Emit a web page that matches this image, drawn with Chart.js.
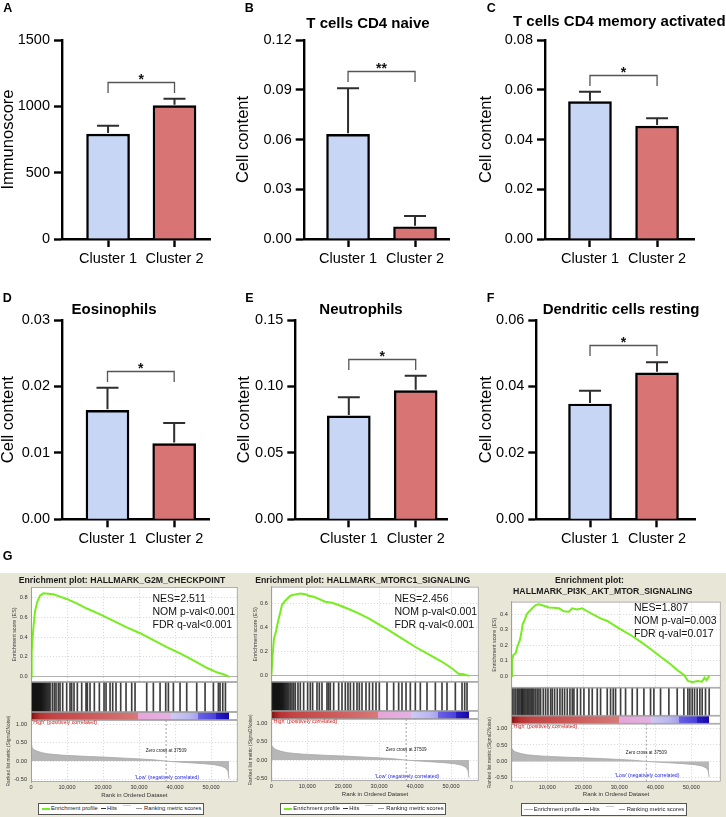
<!DOCTYPE html>
<html><head><meta charset="utf-8">
<script src="https://cdn.jsdelivr.net/npm/chart.js@4/dist/chart.umd.min.js"></script>
<style>
body{margin:0;width:726px;height:817px;overflow:hidden;background:#fff;position:relative;font-family:'Liberation Sans',Arial,sans-serif;}
canvas{position:absolute;}
.t{position:absolute;white-space:nowrap;line-height:1;color:#000;}
.pl{font-weight:bold;font-size:12.5px;}
.ct{font-weight:bold;font-size:15px;transform:translateX(-50%);}
.gt{font-weight:bold;font-size:8.7px;color:#1a1a1a;transform:translateX(-50%);}
.nes{font-size:10.5px;color:#111;line-height:12.95px;}
.leg{position:absolute;width:164px;height:10.3px;border:1px solid #555;background:#fff;}
.leg i,.leg span{position:absolute;display:block;}
.leg span{top:2.3px;font-size:5.8px;line-height:1;color:#222;white-space:nowrap;}
#gbg{position:absolute;left:0;top:573px;width:726px;height:244px;background:#e8e6d6;}
</style></head><body>
<div id="gbg"></div>
<script>
// ================= DATA =================
const clusters = ['Cluster 1', 'Cluster 2'];

const immunoscoreMean = [791, 1005];
const immunoscoreSem  = [63, 52];
const immunoscoreTicks = [0, 500, 1000, 1500];

const cd4NaiveMean = [0.0631, 0.0074];
const cd4NaiveSem  = [0.0278, 0.0065];
const cd4NaiveTicks = [0, 0.03, 0.06, 0.09, 0.12];

const cd4MemActMean = [0.0552, 0.0454];
const cd4MemActSem  = [0.0040, 0.0031];
const cd4MemActTicks = [0, 0.02, 0.04, 0.06, 0.08];

const eosinophilsMean = [0.0164, 0.0114];
const eosinophilsSem  = [0.0034, 0.0031];
const eosinophilsTicks = [0, 0.01, 0.02, 0.03];

const neutrophilsMean = [0.0778, 0.0968];
const neutrophilsSem  = [0.0140, 0.0113];
const neutrophilsTicks = [0, 0.05, 0.10, 0.15];

const dcRestingMean = [0.0347, 0.0441];
const dcRestingSem  = [0.0040, 0.0032];
const dcRestingTicks = [0, 0.02, 0.04, 0.06];

const significance = ['*', '**', '*', '*', '*', '*'];

// GSEA
const GENE_COUNT = 55000;
const ZERO_CROSS = 37509;
const rankTicks = [0, 10000, 20000, 30000, 40000, 50000];
const metricTicks = [-0.5, -0.25, 0, 0.25, 0.5, 0.75, 1.0];

const g2mRank = [0,185,650,1100,1760,2500,3430,4800,6200,8060,9900,12700,15500,19200,22900,26600,30300,34000,37700,41400,45100,48800,51600,53400,55000];
const g2mES   = [0,0.25,0.49,0.66,0.76,0.82,0.844,0.84,0.834,0.81,0.787,0.743,0.69,0.63,0.564,0.50,0.44,0.37,0.30,0.236,0.165,0.09,0.044,0.024,0.0];
const g2mHits = [60,150,260,380,480,600,700,830,950,1080,1200,1330,1450,1580,1700,1850,1980,2100,2250,2400,2550,2700,2850,3000,3200,3400,3600,3850,4100,4400,4700,5000,5300,5930,6480,6950,7590,8060,8800,9910,10830,11300,11950,12870,14080,15280,15650,16390,17590,18980,20280,20840,21950,22690,23610,24910,26390,27970,28890,32130,33980,35840,37410,38150,39540,41390,43240,46020,48340,50650,52040,52500,53250,53990];
const g2mTicks = [0,0.1,0.2,0.3,0.4,0.5,0.6,0.7,0.8];
const g2mStats = ['NES=2.511', 'NOM p-val<0.001', 'FDR q-val<0.001'];

const mtorc1Rank = [0,370,740,1300,1850,2500,2970,3700,4360,5290,6680,8070,9460,10400,11800,13200,15000,16900,18700,21500,24300,27100,29900,32650,36400,40100,43800,47500,50300,52100,53500,55000];
const mtorc1ES   = [0,0.17,0.31,0.37,0.45,0.53,0.59,0.62,0.64,0.667,0.678,0.686,0.68,0.667,0.658,0.64,0.617,0.608,0.59,0.556,0.52,0.478,0.428,0.38,0.31,0.24,0.178,0.117,0.061,0.017,0.014,0.0];
const mtorc1Hits = [50,140,240,330,430,520,640,750,860,980,1100,1220,1350,1470,1600,1720,1850,1980,2120,2260,2400,2560,2720,2880,3050,3250,3450,3700,3950,4250,4550,4900,5300,5750,6215,6680,7420,8070,9000,10110,10850,11500,12710,13360,14100,15490,15950,16420,17350,18740,19670,20590,21330,22000,22910,23840,24490,25230,26340,27270,28200,29130,30050,32190,34040,35430,36360,37480,38680,40070,41460,43320,45640,47490,48880,51200,53060,53800,54450];
const mtorc1Ticks = [0,0.1,0.2,0.3,0.4,0.5,0.6,0.7];
const mtorc1Stats = ['NES=2.456', 'NOM p-val<0.001', 'FDR q-val<0.001'];

const pi3kRank = [0,185,555,1200,1670,2400,2780,3150,3700,4260,4900,5830,6760,7680,9070,10460,11850,13240,14600,16000,16900,18300,19700,21100,22960,24800,26700,28500,30400,33150,35900,38700,41500,44260,46100,48000,49100,50300,51700,53000,53700,54250,54900,55000];
const pi3kES   = [0,0.097,0.136,0.147,0.19,0.234,0.277,0.335,0.363,0.40,0.417,0.439,0.46,0.465,0.456,0.445,0.443,0.439,0.42,0.417,0.439,0.432,0.439,0.42,0.396,0.374,0.357,0.33,0.303,0.266,0.223,0.175,0.125,0.076,0.039,0.006,-0.032,-0.041,-0.032,-0.037,-0.011,-0.028,-0.004,0.006];
const pi3kHits = [278,741,1204,1667,2037,2407,2778,3055,3333,3704,4074,4444,4815,5185,5555,5926,6296,6759,7222,7685,8148,8889,9537,10185,10926,11389,12037,12778,13518,14166,14814,15555,16296,16944,17407,18333,19259,20185,21574,22500,23888,24814,26666,27592,28333,28981,30370,31759,33611,35000,36851,38703,39629,41481,43796,46110,47962,49073,49629,50277,50925,51666,52407,53055,53981,55000];
const pi3kTicks = [0,0.1,0.2,0.3,0.4];
const pi3kStats = ['NES=1.807', 'NOM p-val=0.003', 'FDR q-val=0.017'];

const metricRank  = [0,200,600,1200,2000,3000,4500,6500,9000,12000,16000,20000,25000,30000,34000,37509,40000,44000,48000,51000,53000,54200,54700,55000];
const metricValue = [0.44,0.38,0.33,0.29,0.26,0.23,0.2,0.18,0.16,0.145,0.125,0.11,0.085,0.06,0.035,0,-0.02,-0.045,-0.07,-0.1,-0.14,-0.2,-0.28,-0.48];

// ================= HELPERS =================
const FF = "'Liberation Sans', Arial, sans-serif";
Chart.defaults.font.family = FF;

function mkCanvas(id, x, y, w, h) {
  const c = document.createElement('canvas');
  c.id = id; c.width = w; c.height = h;
  c.style.left = x + 'px'; c.style.top = y + 'px';
  document.body.appendChild(c);
  return c;
}
function addText(txt, x, y, cls, extra) {
  const d = document.createElement('div');
  d.className = 't ' + cls;
  d.style.left = x + 'px'; d.style.top = y + 'px';
  if (extra) d.style.cssText += extra;
  d.innerHTML = txt;
  document.body.appendChild(d);
  return d;
}

const errSigPlugin = {
  id: 'errSig',
  afterDatasetsDraw(chart, args, opts) {
    const ctx = chart.ctx, ys = chart.scales.y, meta = chart.getDatasetMeta(0);
    ctx.save();
    ctx.strokeStyle = '#2e2e2e'; ctx.lineWidth = 2;
    let topY = Infinity;
    meta.data.forEach((bar, i) => {
      const y0 = ys.getPixelForValue(opts.mean[i]);
      const y1 = ys.getPixelForValue(opts.mean[i] + opts.sem[i]);
      topY = Math.min(topY, y1);
      ctx.beginPath();
      ctx.moveTo(bar.x, y0 - 1); ctx.lineTo(bar.x, y1);
      ctx.moveTo(bar.x - 11, y1); ctx.lineTo(bar.x + 11, y1);
      ctx.stroke();
    });
    const yb = Math.round(topY - 17) + 0.5;
    const xa = meta.data[0].x, xb = meta.data[1].x;
    ctx.strokeStyle = '#555'; ctx.lineWidth = 1.3;
    ctx.beginPath();
    ctx.moveTo(xa, yb + 10.5); ctx.lineTo(xa, yb); ctx.lineTo(xb, yb); ctx.lineTo(xb, yb + 10.5);
    ctx.stroke();
    ctx.fillStyle = '#111'; ctx.font = 'bold 14px ' + FF;
    ctx.textAlign = 'center'; ctx.textBaseline = 'alphabetic';
    ctx.fillText(opts.stars, (xa + xb) / 2, yb + 1.5);
    ctx.restore();
  }
};

function barChart(o) {
  const cv = mkCanvas(o.id, o.cx, o.cy, 262, o.h);
  const topV = o.ticks[o.ticks.length - 1];
  new Chart(cv, {
    type: 'bar',
    data: { datasets: [{
      data: o.mean.map((v, i) => ({ x: i + 1, y: v })),
      backgroundColor: ['#c6d6f4', '#d87474'],
      borderColor: '#000', borderWidth: 2.4, borderSkipped: 'start',
      barThickness: 43
    }]},
    options: {
      responsive: false, animation: false, events: [],
      layout: { padding: { left: 0, right: 262 - o.right, top: o.top, bottom: 0 } },
      plugins: { legend: { display: false }, tooltip: { enabled: false },
        errSig: { mean: o.mean, sem: o.sem, stars: o.stars } },
      scales: {
        x: {
          type: 'linear', min: o.xmin, max: o.xmax, offset: false,
          afterBuildTicks: s => { s.ticks = clusters.map((c, i) => ({ value: i + 1 })); },
          afterFit: s => { s.height = o.h - o.bottom; },
          ticks: { callback: v => clusters[v - 1], font: { size: 14.5 }, color: '#000', padding: 3, autoSkip: false, maxRotation: 0 },
          grid: { drawOnChartArea: false, tickLength: 8, tickWidth: 2.4, tickColor: '#000', offset: false },
          border: { display: true, color: '#000', width: 2.4 }
        },
        y: {
          min: 0, max: topV,
          afterBuildTicks: s => { s.ticks = o.ticks.map(v => ({ value: v })); },
          afterFit: s => { s.width = o.left; },
          ticks: { callback: v => o.fmt(v), font: { size: 14.5 }, color: '#000', padding: 4 },
          grid: { drawOnChartArea: false, tickLength: 8, tickWidth: 2.4, tickColor: '#000' },
          border: { display: true, color: '#000', width: 2.4 },
          title: { display: true, text: o.yTitle, font: { size: 16.5 }, color: '#000', padding: { top: o.tPad, bottom: 0 } }
        }
      }
    },
    plugins: [errSigPlugin]
  });
}

const f0 = v => String(Math.round(v));
const f2 = v => v.toFixed(2);

barChart({ id: 'cA', cx: -20, cy: 0, h: 290, left: 82, right: 230, top: 40, bottom: 239, xmin: 0.307, xmax: 2.534,
  mean: immunoscoreMean, sem: immunoscoreSem, ticks: immunoscoreTicks, fmt: f0, yTitle: 'Immunoscore', tPad: 18.4, stars: significance[0] });
barChart({ id: 'cB', cx: 222, cy: 0, h: 290, left: 81.7, right: 227, top: 40, bottom: 239, xmin: 0.338, xmax: 2.507,
  mean: cd4NaiveMean, sem: cd4NaiveSem, ticks: cd4NaiveTicks, fmt: f2, yTitle: 'Cell content', tPad: 11.6, stars: significance[1] });
barChart({ id: 'cC', cx: 464, cy: 0, h: 290, left: 81, right: 230, top: 40, bottom: 239, xmin: 0.33, xmax: 2.55,
  mean: cd4MemActMean, sem: cd4MemActSem, ticks: cd4MemActTicks, fmt: f2, yTitle: 'Cell content', tPad: 12.1, stars: significance[2] });
barChart({ id: 'cD', cx: -20, cy: 290, h: 283, left: 82, right: 229, top: 30, bottom: 229.3, xmin: 0.318, xmax: 2.522,
  mean: eosinophilsMean, sem: eosinophilsSem, ticks: eosinophilsTicks, fmt: f2, yTitle: 'Cell content', tPad: 18.4, stars: significance[3] });
barChart({ id: 'cE', cx: 222, cy: 290, h: 283, left: 73.3, right: 225, top: 30, bottom: 229.3, xmin: 0.2, xmax: 2.468,
  mean: neutrophilsMean, sem: neutrophilsSem, ticks: neutrophilsTicks, fmt: f2, yTitle: 'Cell content', tPad: 12.1, stars: significance[4] });
barChart({ id: 'cF', cx: 464, cy: 290, h: 283, left: 72.3, right: 231.7, top: 30, bottom: 229.3, xmin: 0.198, xmax: 2.578,
  mean: dcRestingMean, sem: dcRestingSem, ticks: dcRestingTicks, fmt: f2, yTitle: 'Cell content', tPad: 12.1, stars: significance[5] });

// ================= GSEA =================
const COLOR_STOPS = [
  [0, '#6e0a0a'], [800, '#9a1a1a'], [2500, '#b83232'], [6000, '#c44444'], [15000, '#cc5555'], [25000, '#d46c6c'], [29800, '#d87a7a'],
  [29800, '#e8a4d8'], [38800, '#e2b2e2'],
  [38800, '#cfcaf2'], [44000, '#bab6f0'], [46500, '#a6a0ee'],
  [46500, '#6a62e6'], [51500, '#4a40dc'],
  [51500, '#2a1ec8'], [55000, '#1408a8']
];

const gseaPlugin = {
  id: 'gsea',
  beforeDraw(chart) {
    const { ctx, chartArea: a } = chart;
    ctx.save(); ctx.fillStyle = '#fff'; ctx.fillRect(a.left, a.top, a.width, a.height); ctx.restore();
  },
  beforeDatasetsDraw(chart) {
    const { ctx, chartArea: a, scales: s } = chart;
    ctx.save(); ctx.fillStyle = '#fff';
    ctx.fillRect(a.left, s.yHit.top, a.width, s.yBar.bottom - s.yHit.top);
    ctx.restore();
  },
  afterDatasetsDraw(chart) {
    const { ctx, chartArea: a, scales: s } = chart;
    ctx.save();
    ctx.strokeStyle = '#9a9a9a'; ctx.lineWidth = 0.8;
    ['yES', 'yHit', 'yBar', 'yRank'].forEach(id => {
      ctx.strokeRect(a.left + 0.4, s[id].top + 0.4, a.width - 0.8, s[id].bottom - s[id].top - 0.8);
    });
    const zx = s.x.getPixelForValue(ZERO_CROSS);
    ctx.textBaseline = 'top'; ctx.textAlign = 'left';
    ctx.fillStyle = '#cc2020'; ctx.font = '5.3px ' + FF;
    ctx.fillText("'High' (positively correlated)", a.left + 1.3, s.yRank.top + 0.3);
    ctx.textBaseline = 'middle'; ctx.textAlign = 'center';
    ctx.fillStyle = '#222'; ctx.font = '4.6px ' + FF;
    ctx.fillText('Zero cross at ' + ZERO_CROSS, zx, s.yRank.getPixelForValue(0.27));
    ctx.fillStyle = '#2828e0'; ctx.font = '5.2px ' + FF;
    ctx.fillText("'Low' (negatively correlated)", zx + 1, s.yRank.getPixelForValue(-0.44));
    ctx.restore();
  }
};

function gradientFill(c) {
  const ch = c.chart; const xs = ch.scales && ch.scales.x;
  if (!xs || !ch.chartArea) return '#c05050';
  const x0 = xs.getPixelForValue(0), x1 = xs.getPixelForValue(GENE_COUNT);
  const g = ch.ctx.createLinearGradient(x0, 0, x1, 0);
  COLOR_STOPS.forEach(([r, col]) => g.addColorStop(Math.min(1, r / GENE_COUNT), col));
  return g;
}

function gseaChart(o) {
  const cv = mkCanvas(o.id, o.cx, 575, 242, 242);
  const gridCol = c => (c.tick && c.tick.value === 0) ? '#9a9a9a' : '#d2d2d2';
  const dash = c => (c.tick && c.tick.value === 0) ? [] : [1.2, 1.8];
  new Chart(cv, {
    type: 'line',
    data: { datasets: [
      { label: 'Enrichment profile', data: o.rank.map((r, i) => ({ x: r, y: o.es[i] })), yAxisID: 'yES',
        borderColor: '#76ee1e', borderWidth: 2, pointRadius: 0, fill: false },
      { type: 'bar', label: 'Hits', data: o.hits.map(h => ({ x: h, y: 1 })), yAxisID: 'yHit',
        backgroundColor: 'rgba(20,20,20,0.82)', barThickness: 1, borderWidth: 0 },
      { label: 'colorbar', data: [{ x: 0, y: 1 }, { x: GENE_COUNT, y: 1 }], yAxisID: 'yBar',
        borderWidth: 0, pointRadius: 0, fill: 'origin', backgroundColor: gradientFill },
      { label: 'Ranking metric scores', data: metricRank.map((r, i) => ({ x: r, y: metricValue[i] })), yAxisID: 'yRank',
        borderColor: '#a6a6a6', borderWidth: 0.8, backgroundColor: '#b6b6b6', fill: 'origin', pointRadius: 0 },
      { label: 'zero', data: [{ x: ZERO_CROSS, y: o.rankMin }, { x: ZERO_CROSS, y: o.rankMax }], yAxisID: 'yRank',
        borderColor: '#8a8a8a', borderWidth: 0.8, borderDash: [2, 2], pointRadius: 0, fill: false }
    ]},
    options: {
      responsive: false, animation: false, events: [],
      layout: { padding: { left: 0, right: 242 - o.right, top: o.top, bottom: 242 - o.bottom - 18 } },
      plugins: { legend: { display: false }, tooltip: { enabled: false } },
      scales: {
        x: {
          type: 'linear', min: 0, max: o.xMax, offset: false,
          afterBuildTicks: s => { s.ticks = rankTicks.map(v => ({ value: v })); },
          afterFit: s => { s.height = 18; },
          ticks: { callback: v => v.toLocaleString('en-US'), font: { size: 5.6 }, color: '#333', padding: 2, maxRotation: 0, autoSkip: false },
          grid: { color: '#d2d2d2', lineWidth: 0.8, drawTicks: false, offset: false },
          border: { display: false, dash: [1.2, 1.8] },
          title: { display: true, text: 'Rank in Ordered Dataset', font: { size: 6 }, color: '#333', padding: { top: 0, bottom: 1.4 } }
        },
        yES: {
          type: 'linear', position: 'left', stack: 'gsea', stackWeight: o.stack[0], weight: 4,
          min: o.esMin, max: o.esMax,
          afterBuildTicks: s => { s.ticks = o.esTicks.map(v => ({ value: v })); },
          afterFit: s => { s.width = o.left; },
          ticks: { callback: v => v.toFixed(1), font: { size: 5.6 }, color: '#333', padding: 3.5 },
          grid: { color: gridCol, lineWidth: 0.8, drawTicks: false },
          border: { display: true, color: '#9a9a9a', width: 0.8, dash: dash },
          title: { display: true, text: 'Enrichment score (ES)', font: { size: 5.4 }, color: '#444', padding: { top: o.esTPad, bottom: 0 } }
        },
        yHit: {
          type: 'linear', position: 'left', stack: 'gsea', stackWeight: o.stack[1], weight: 3, min: 0, max: 1,
          afterFit: s => { s.width = o.left; },
          ticks: { display: false }, grid: { display: false }, border: { display: false }
        },
        yBar: {
          type: 'linear', position: 'left', stack: 'gsea', stackWeight: o.stack[2], weight: 2, min: 0, max: 1,
          afterFit: s => { s.width = o.left; },
          ticks: { display: false }, grid: { display: false }, border: { display: false }
        },
        yRank: {
          type: 'linear', position: 'left', stack: 'gsea', stackWeight: o.stack[3], weight: 1,
          min: o.rankMin, max: o.rankMax,
          afterBuildTicks: s => { s.ticks = metricTicks.map(v => ({ value: v })); },
          afterFit: s => { s.width = o.left; },
          ticks: { callback: v => v.toFixed(2), font: { size: 5.6 }, color: '#333', padding: 4 },
          grid: { color: '#d2d2d2', lineWidth: 0.8, drawTicks: false },
          border: { display: true, color: '#9a9a9a', width: 0.8, dash: [1.2, 1.8] },
          title: { display: true, text: 'Ranked list metric (Signal2Noise)', font: { size: 4.8 }, color: '#444', padding: { top: o.rkTPad, bottom: 0 } }
        }
      }
    },
    plugins: [gseaPlugin]
  });
}

gseaChart({ id: 'g1', cx: 0, left: 31, right: 237.7, top: 12, bottom: 207, xMax: 57400, stack: [95, 30, 8, 62],
  rank: g2mRank, es: g2mES, hits: g2mHits, esTicks: g2mTicks, esMin: -0.054, esMax: 0.908, rankMin: -0.57, rankMax: 1.12,
  esTPad: 10.8, rkTPad: 6.1 });
gseaChart({ id: 'g2', cx: 242, left: 29.3, right: 236.7, top: 11.7, bottom: 206, xMax: 57700, stack: [95, 29, 8, 62],
  rank: mtorc1Rank, es: mtorc1ES, hits: mtorc1Hits, esTicks: mtorc1Ticks, esMin: -0.05, esMax: 0.742, rankMin: -0.57, rankMax: 1.12,
  esTPad: 10.1, rkTPad: 5.4 });
gseaChart({ id: 'g3', cx: 484, left: 27.3, right: 236.7, top: 26.7, bottom: 206.7, xMax: 58200, stack: [86, 28, 8, 58],
  rank: pi3kRank, es: pi3kES, hits: pi3kHits, esTicks: pi3kTicks, esMin: -0.076, esMax: 0.482, rankMin: -0.62, rankMax: 1.15,
  esTPad: 6.8, rkTPad: 2.8 });

// ================= TEXT =================
addText('A', 3.3, 1.7, 'pl'); addText('B', 244.7, 1.7, 'pl'); addText('C', 486.7, 2.4, 'pl');
addText('D', 2.7, 292.4, 'pl'); addText('E', 245.3, 292.4, 'pl'); addText('F', 486.7, 292.4, 'pl');
addText('G', 2.7, 550.1, 'pl');

addText('T cells CD4 naive', 368, 14.6, 'ct');
addText('T cells CD4 memory activated', 619.3, 13, 'ct');
addText('Eosinophils', 114, 301, 'ct');
addText('Neutrophils', 361, 301, 'ct');
addText('Dendritic cells resting', 621, 301.3, 'ct');

addText('Enrichment plot: HALLMARK_G2M_CHECKPOINT', 122, 575.6, 'gt');
addText('Enrichment plot: HALLMARK_MTORC1_SIGNALING', 362.8, 575.6, 'gt');
addText('Enrichment plot:', 589.5, 575.6, 'gt');
addText('HALLMARK_PI3K_AKT_MTOR_SIGNALING', 602.8, 587.2, 'gt');

addText(g2mStats.join('<br>'), 152.5, 591.7, 'nes');
addText(mtorc1Stats.join('<br>'), 394.5, 591.7, 'nes');
addText(pi3kStats.join('<br>'), 634, 600.7, 'nes');

function addLegend(x, y) {
  const d = document.createElement('div');
  d.className = 'leg'; d.style.left = x + 'px'; d.style.top = y + 'px';
  d.innerHTML =
    '<i style="left:2.5px;top:4.4px;width:8.5px;height:1.5px;background:#76ee1e"></i>' +
    '<span style="left:12px">Enrichment profile</span>' +
    '<i style="left:62px;top:4.7px;width:5px;height:1px;background:#333"></i>' +
    '<span style="left:68px">Hits</span>' +
    '<i style="left:84px;top:1.5px;width:8px;height:1.2px;background:#ccc"></i>' +
    '<i style="left:97px;top:4.7px;width:6px;height:1px;background:#999"></i>' +
    '<span style="left:105px">Ranking metric scores</span>';
  document.body.appendChild(d);
}
addLegend(38, 802.7);
addLegend(280.3, 802.7);
addLegend(520.7, 803.3);
</script>
</body></html>
